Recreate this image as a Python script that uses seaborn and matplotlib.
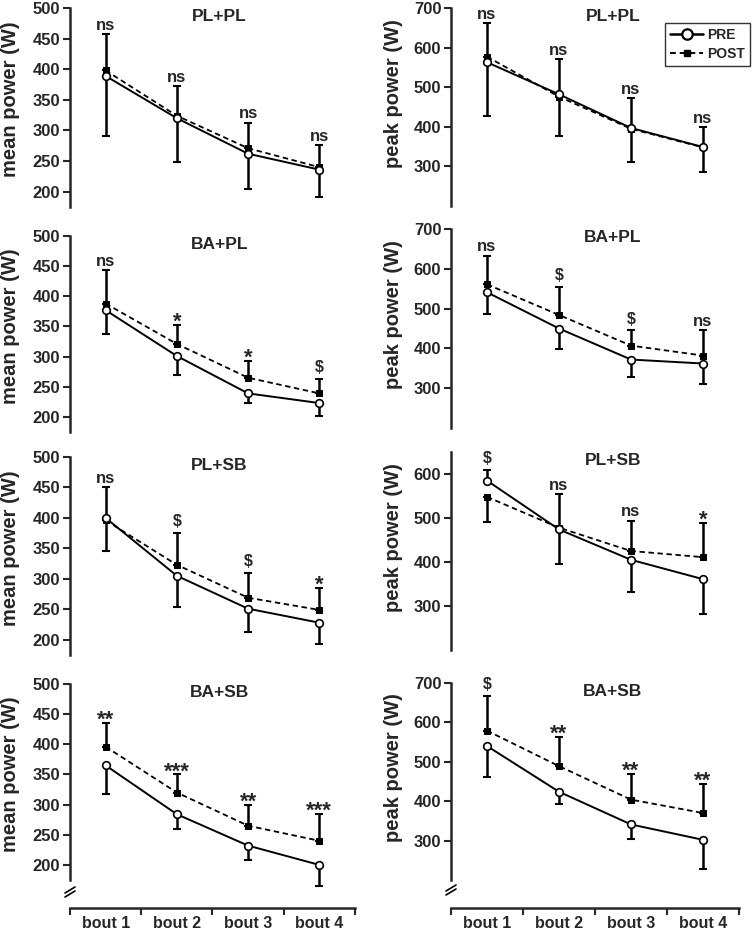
import numpy as np
import matplotlib
matplotlib.use('Agg')
import matplotlib.pyplot as plt
from matplotlib.lines import Line2D
import seaborn as sns

# x categories / panel titles
bouts = ['bout 1', 'bout 2', 'bout 3', 'bout 4']
groups = ['PL+PL', 'BA+PL', 'PL+SB', 'BA+SB']

# mean power (W), one row per group
mean_pre = [[389, 320, 262, 236], [377, 301, 239, 223], [400, 305, 251, 228], [365, 284, 232, 200]]
mean_pre_sd = [[98, 72, 58, 44], [40, 31, 16, 22], [50, 52, 39, 35], [47, 25, 24, 35]]
mean_post = [[398, 324, 271, 240], [388, 321, 265, 239], [396, 323, 269, 249], [396, 320, 265, 240]]
mean_post_sd = [[60, 49, 42, 36], [56, 32, 28, 24], [50, 53, 40, 36], [39, 30, 35, 44]]
mean_sig = [['ns', 'ns', 'ns', 'ns'], ['ns', '*', '*', '$'], ['ns', '$', '$', '*'], ['**', '***', '**', '***']]

# peak power (W)
peak_pre = [[563, 482, 397, 349], [541, 450, 372, 362], [585, 474, 405, 361], [540, 424, 341, 302]]
peak_pre_sd = [[135, 89, 76, 51], [54, 51, 44, 51], [24, 78, 74, 80], [78, 32, 38, 73]]
peak_post = [[577, 476, 395, 348], [561, 484, 407, 382], [548, 478, 425, 411], [579, 489, 404, 370]]
peak_post_sd = [[85, 100, 85, 61], [72, 70, 38, 65], [58, 76, 69, 77], [88, 74, 64, 73]]
peak_sig = [['ns', 'ns', 'ns', 'ns'], ['ns', '$', '$', 'ns'], ['$', 'ns', 'ns', '*'], ['$', '**', '**', '**']]

mean_ticks = [200, 250, 300, 350, 400, 450, 500]
peak_ticks = [[300, 400, 500, 600, 700], [300, 400, 500, 600, 700], [300, 400, 500, 600], [300, 400, 500, 600, 700]]
peak_ylims = [(200, 700), (200, 700), (200, 650), (200, 700)]

sns.set_style('ticks')
plt.rcParams['font.family'] = ['Liberation Sans', 'DejaVu Sans']
plt.rcParams['font.weight'] = 'bold'

W, H = 755, 931
fig = plt.figure(figsize=(W / 100, H / 100), dpi=100)


def add_axes(left, right, top, bottom):
    return fig.add_axes([left / W, 1 - bottom / H, (right - left) / W, (bottom - top) / H])


def draw_panel(ax, pre, pre_sd, post, post_sd, sig, title, title_x):
    x = np.arange(1, 5)
    pre = np.array(pre)
    post = np.array(post)
    pre_sd = np.array(pre_sd)
    post_sd = np.array(post_sd)
    pre_up = pre >= post

    # one-sided error bars: the higher series gets the upper bar
    for vals, sd, up in [(pre, pre_sd, pre_up), (post, post_sd, ~pre_up)]:
        lower = np.where(up, 0, sd)
        upper = np.where(up, sd, 0)
        eb = ax.errorbar(x, vals, yerr=[lower, upper], fmt='none', ecolor='black',
                         elinewidth=1.8, capsize=3, capthick=1.5, zorder=2)
        for art in eb.lines[1] + eb.lines[2]:
            art.set_clip_on(False)

    sns.lineplot(x=x, y=pre, ax=ax, color='black', lw=1.4, marker='o', markersize=5.5,
                 markerfacecolor='white', markeredgecolor='black', markeredgewidth=1.2,
                 errorbar=None, zorder=4)
    sns.lineplot(x=x, y=post, ax=ax, color='black', lw=1.3, linestyle=(0, (3, 2)), marker='s',
                 markersize=4.5, markerfacecolor='black', markeredgecolor='black',
                 errorbar=None, zorder=3)

    # significance marks above the upper bar
    top = np.where(pre_up, pre + pre_sd, post + post_sd)
    for xi, yi, s in zip(x, top, sig):
        if '*' in s:
            ax.annotate(s, (xi, yi), xytext=(0, -2), textcoords='offset points', ha='center',
                        va='baseline', fontsize=16, fontweight='bold')
        elif s == '$':
            ax.annotate(s, (xi, yi), xytext=(0, 5), textcoords='offset points', ha='center',
                        va='baseline', fontsize=11.5, fontweight='bold')
        else:
            ax.annotate(s, (xi, yi), xytext=(0, 3), textcoords='offset points', ha='center',
                        va='baseline', fontsize=12, fontweight='bold')

    ax.text(title_x, 0.955, title, transform=ax.get_xaxis_transform(), ha='center', va='center',
            fontsize=12.5, fontweight='bold')

    ax.set_xlim(0.5, 4.5)
    for sp in ['top', 'right']:
        ax.spines[sp].set_visible(False)
    ax.spines['left'].set_linewidth(1.8)
    ax.tick_params(axis='y', length=5, width=1.5, direction='out', pad=2, labelsize=12)


left_tops = [8, 236, 457, 684]
left_bottoms = [207, 432, 655, 880]
right_tops = [8, 229, 452, 683]
right_bottoms = [206, 428, 650, 880]

for i, g in enumerate(groups):
    axl = add_axes(70, 355, left_tops[i], left_bottoms[i])
    draw_panel(axl, mean_pre[i], mean_pre_sd[i], mean_post[i], mean_post_sd[i], mean_sig[i], g, 2.6)
    axl.set_ylim(175, 500)
    axl.set_yticks(mean_ticks)
    axl.set_yticklabels(mean_ticks, fontweight='bold', fontsize=12)
    axl.set_ylabel('mean power (W)', fontsize=14.5, fontweight='bold')
    axl.yaxis.set_label_coords(-0.175, 0.54)

    axr = add_axes(451, 739, right_tops[i], right_bottoms[i])
    draw_panel(axr, peak_pre[i], peak_pre_sd[i], peak_post[i], peak_post_sd[i], peak_sig[i], g, 2.75)
    axr.set_ylim(*peak_ylims[i])
    axr.set_yticks(peak_ticks[i])
    axr.set_yticklabels(peak_ticks[i], fontweight='bold', fontsize=12)
    axr.set_ylabel('peak power (W)', fontsize=14.5, fontweight='bold')
    axr.yaxis.set_label_coords(-0.165, 0.57)

    for ax in (axl, axr):
        if i < 3:
            ax.spines['bottom'].set_visible(False)
            ax.set_xticks([])
        else:
            ax.spines['bottom'].set_position(('outward', 20))
            ax.spines['bottom'].set_linewidth(1.8)
            ax.set_xticks([0.5, 1.5, 2.5, 3.5, 4.5])
            ax.set_xticklabels([])
            ax.set_xticks([1, 2, 3, 4], minor=True)
            ax.set_xticklabels(bouts, minor=True, fontsize=11.5, fontweight='bold')
            ax.tick_params(axis='x', which='major', length=5, width=1.5, direction='out')
            ax.tick_params(axis='x', which='minor', length=0, pad=6)

    if i == 0:
        h_pre = Line2D([], [], color='black', lw=1.8, marker='o', markersize=7.5,
                       markerfacecolor='white', markeredgecolor='black', markeredgewidth=1.6)
        h_post = Line2D([], [], color='black', lw=1.4, linestyle=(0, (3, 2)), marker='s',
                        markersize=4.5, markerfacecolor='black')
        leg = axr.legend([h_pre, h_post], ['PRE', 'POST'], loc='upper right',
                         bbox_to_anchor=(750 / W, 1 - 23 / H), bbox_transform=fig.transFigure,
                         borderaxespad=0, frameon=True, fancybox=False, edgecolor='black',
                         prop={'weight': 'bold', 'size': 10}, handlelength=2.4,
                         handletextpad=0.3, borderpad=0.35, labelspacing=0.35)
        leg.get_frame().set_linewidth(1.0)

# axis break marks on the y axes of the bottom row
for sx, sy in [(70, 892), (451, 890)]:
    for dy in (-2, 2):
        fig.add_artist(Line2D([(sx - 5) / W, (sx + 5) / W],
                              [1 - (sy + dy + 3) / H, 1 - (sy + dy - 3) / H],
                              transform=fig.transFigure, color='black', lw=1.2))

fig.savefig('out.png', dpi=100)
